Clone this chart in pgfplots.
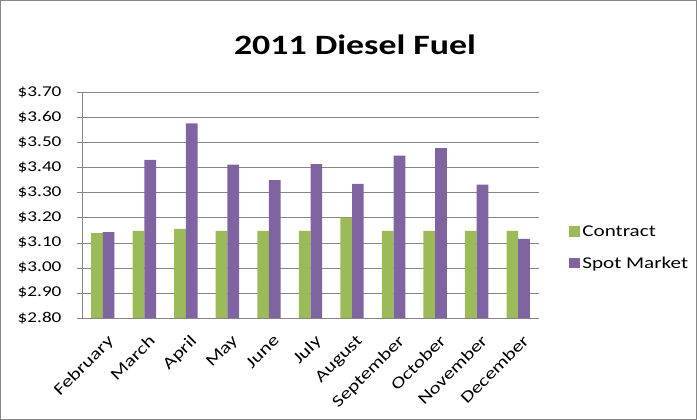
\documentclass[border=0pt]{standalone}
\usepackage{fontspec}
\setmainfont[FakeStretch=1.28]{Carlito}
\usepackage{pgfplots}
\pgfplotsset{compat=1.18}
\definecolor{cgreen}{HTML}{9BBB59}
\definecolor{cpurple}{HTML}{8064A2}
\definecolor{cgrid}{HTML}{868686}
\begin{document}
\begin{tikzpicture}
\path[use as bounding box] (0,0) rectangle (697bp,420bp);
\draw[cgrid, line width=0.8bp] (0.5bp,0.5bp) rectangle (696.5bp,419.5bp);
\node[font=\fontsize{28bp}{32bp}\selectfont\bfseries] at (355bp,375bp) {2011 Diesel Fuel};
\begin{axis}[
  at={(82bp,102bp)}, anchor=south west,
  scale only axis, width=457bp, height=225.3bp,
  xmin=-0.5, xmax=10.5, ymin=2.8, ymax=3.7,
  axis x line*=bottom, axis y line*=left,
  axis line style={cgrid, line width=0.8bp},
  ytick={2.8,2.9,3.0,3.1,3.2,3.3,3.4,3.5,3.6,3.7},
  yticklabels={\$2.80,\$2.90,\$3.00,\$3.10,\$3.20,\$3.30,\$3.40,\$3.50,\$3.60,\$3.70},
  /pgf/number format/assume math mode=true,
  ymajorgrids, grid style={cgrid, line width=0.8bp},
  tick style={cgrid, line width=0.8bp},
  tick align=outside, major tick length=5bp,
  xtick={0,...,10},
  xticklabels={February,March,April,May,June,July,August,September,October,November,December},
  x tick style={draw=none},
  extra x ticks={-0.5,0.5,1.5,2.5,3.5,4.5,5.5,6.5,7.5,8.5,9.5,10.5},
  extra x tick labels={},
  extra x tick style={tick style={cgrid, line width=0.8bp}, grid=none},
  ticklabel style={font=\fontsize{15bp}{18bp}\selectfont, text=black},
  yticklabel style={xshift=-12bp},
  xticklabel style={rotate=45, anchor=north east, inner sep=1bp, xshift=-4bp, yshift=-9bp,
    font=\fontsize{16.5bp}{19bp}\selectfont},
  ybar, bar width=11.7bp,
  legend style={at={(1.065,0.313)}, anchor=west, draw=none, fill=none,
    font=\fontsize{16.5bp}{20bp}\selectfont, row sep=15bp, inner sep=0pt},
  legend cell align=left,
  legend image code/.code={\fill[#1] (0bp,-5bp) rectangle (11.5bp,5.5bp);},
]
\addplot[fill=cgreen, draw=none, bar shift=-5.85bp] coordinates {
(0,3.139) (1,3.148) (2,3.156) (3,3.148) (4,3.148) (5,3.148) (6,3.201) (7,3.148) (8,3.148) (9,3.148) (10,3.148)};
\addplot[fill=cpurple, draw=none, bar shift=5.85bp] coordinates {
(0,3.143) (1,3.432) (2,3.577) (3,3.413) (4,3.351) (5,3.415) (6,3.336) (7,3.449) (8,3.479) (9,3.333) (10,3.116)};
\legend{Contract, Spot Market}
\end{axis}
\end{tikzpicture}
\end{document}
